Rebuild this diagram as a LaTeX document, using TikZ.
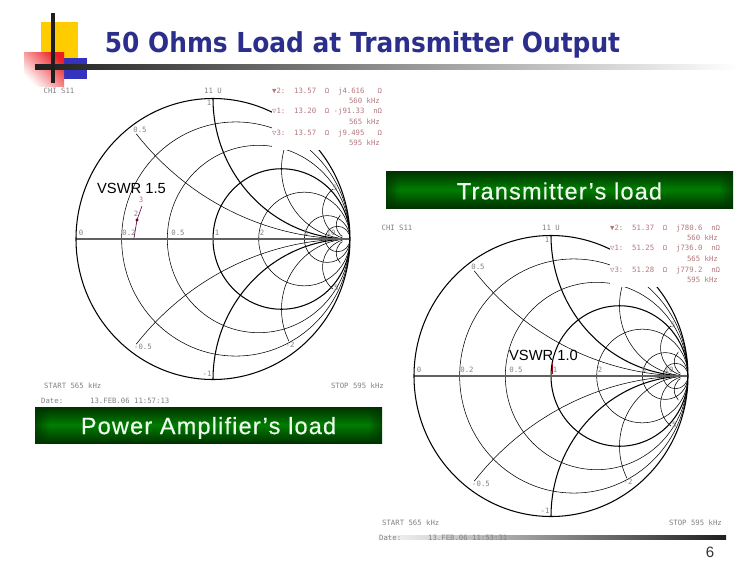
\documentclass[tikz,border=0pt]{standalone}
\usepackage{fontspec}
\usetikzlibrary{fadings}
\setmainfont{Liberation Sans}
\newfontfamily\titlefont{DejaVu Sans}
\newfontfamily\chartmono{DejaVu Sans Mono}
\newfontfamily\bannerfont[LetterSpace=5,FakeBold=0.4]{Liberation Sans}
\definecolor{titleblue}{RGB}{44,46,140}
\definecolor{rosy}{RGB}{178,120,125}
\definecolor{labelgray}{RGB}{130,130,130}
\definecolor{bandgreen}{RGB}{0,125,0}
\definecolor{banddark}{RGB}{0,50,0}
\definecolor{bandtext}{RGB}{238,250,238}
\definecolor{decoyellow}{RGB}{255,204,0}
\definecolor{decoblue}{RGB}{51,51,190}
\definecolor{decored}{RGB}{235,30,35}
\tikzfading[name=bandleft,left color=transparent!30,right color=transparent!100]
\tikzfading[name=bandright,left color=transparent!100,right color=transparent!30]
\tikzset{
  thin line/.style={line width=0.55pt,black},
  thick line/.style={line width=1.05pt,black},
  smalltext/.style={font=\chartmono\fontsize{7.3}{8}\selectfont,text=labelgray,inner sep=0pt},
  readout/.style={font=\chartmono\fontsize{7.3}{8}\selectfont,text=rosy,inner sep=0pt},
  banner/.style={top color=banddark,bottom color=banddark,middle color=bandgreen},
  bannertext/.style={font=\bannerfont\fontsize{23.5}{26}\selectfont,text=bandtext,inner sep=0pt},
  vswr/.style={font=\fontsize{14.7}{16}\selectfont,text=black,inner sep=0pt},
}
% #1 name prefix, #2 dx, #3 dy, #4-6 readout lines, #7 date stamp
\newcommand{\smithgrid}[7]{%
\begin{scope}[shift={(#2,#3)}]
  \begin{scope}[shift={(213,239)},x=137pt,y=140.5pt]
    \begin{scope}
      \clip (0,0) circle [radius=1];
      \foreach \r in {0.2,0.5,2,5,10}
        \draw[thin line] ({\r/(\r+1)},0) circle [radius={1/(\r+1)}];
      \draw[thick line] (0.5,0) circle [radius=0.5];
      \draw[thick line] (1,1) circle [radius=1];
      \draw[thick line] (1,-1) circle [radius=1];
    \end{scope}
    \begin{scope}
      \clip (0,0) circle [radius=0.935];
      \draw[thin line] (1,2) circle [radius=2];
      \draw[thin line] (1,-2) circle [radius=2];
    \end{scope}
    \begin{scope}
      \clip (0,0) circle [radius=0.915];
      \draw[thin line] (1,0.5) circle [radius=0.5];
      \draw[thin line] (1,-0.5) circle [radius=0.5];
    \end{scope}
    \begin{scope}
      \clip (0,0) circle [radius=0.945];
      \foreach \s in {5,10} {
        \draw[thin line] (1,{1/\s}) circle [radius={1/\s}];
        \draw[thin line] (1,{-1/\s}) circle [radius={1/\s}];
      }
    \end{scope}
    \draw[line width=1.1pt,black!62] (-1,0) -- (1,0);
    \draw[thick line] (0,0) circle [radius=1];
  \end{scope}
  \fill[white] (272,84) rectangle (386,150);
  \node[smalltext] (#1chi) at (59,91) {CHI S11};
  \node[smalltext] (#1top) at (213,91) {11 U};
  \node[smalltext] (#1one) at (209,103) {1};
  \node[smalltext] (#1up) at (140,130) {0.5};
  \node[smalltext] (#1five) at (335,188) {5};
  \node[smalltext] (#1a) at (81,233) {0};
  \node[smalltext] (#1b) at (129,233) {0.2};
  \node[smalltext] (#1c) at (178,233) {0.5};
  \node[smalltext] (#1d) at (217,233) {1};
  \node[smalltext] (#1e) at (262,233) {2};
  \node[smalltext] (#1f) at (306,233) {5};
  \node[smalltext] (#1g) at (331,233) {10};
  \node[smalltext] (#1h) at (334,288) {-5};
  \node[smalltext] (#1i) at (290,345) {-2};
  \node[smalltext] (#1j) at (143,347) {-0.5};
  \node[smalltext] (#1k) at (207,374) {-1};
  \node[readout,anchor=west] (#1m) at (272,91) {#4};
  \node[readout,anchor=east] (#1n) at (380,101) {560 kHz};
  \node[readout,anchor=west] (#1o) at (272,111) {#5};
  \node[readout,anchor=east] (#1p) at (380,122) {565 kHz};
  \node[readout,anchor=west] (#1q) at (272,133) {#6};
  \node[readout,anchor=east] (#1r) at (380,143) {595 kHz};
  \node[smalltext,anchor=west] (#1s) at (44,386) {START 565 kHz};
  \node[smalltext,anchor=east] (#1t) at (384,386) {STOP 595 kHz};
  \node[smalltext,anchor=west] (#1u) at (41,400.5) {Date:};
  \node[smalltext,anchor=west] (#1v) at (90,400.5) {#7};
\end{scope}}
\begin{document}
\begin{tikzpicture}[x=1pt,y=-1pt]
\useasboundingbox (0,0) rectangle (756,576);
\fill[white] (0,0) rectangle (756,576);
% template decoration
\fill[decoyellow] (41,22) rectangle (78,70);
\fill[decoblue] (64,58) rectangle (87,79);
\shade[top color=decored,bottom color=white,shading angle=-45] (24,52) rectangle (64,86);
\shade[left color=black!88,right color=white] (35,64) rectangle (738,69);
\fill[black!88] (51,13) rectangle (55,83);
% footer rule
\shade[left color=white,right color=black!88] (372,535) rectangle (726,539);
% title
\node[font=\titlefont\bfseries\fontsize{27.5}{30}\selectfont,text=titleblue,inner sep=0pt] (title) at (362.5,45) {\scalebox{0.905}[1]{50 Ohms Load at Transmitter Output}};
% charts
\smithgrid{L}{0}{0}{▼2:~~13.57~~Ω~~j4.616~~~Ω}{▽1:~~13.20~~Ω~-j91.33~~nΩ}{▽3:~~13.57~~Ω~~j9.495~~~Ω}{13.FEB.06 11:57:13}
\smithgrid{R}{338}{137}{▼2:~~51.37~~Ω~~j780.6~~nΩ}{▽1:~~51.25~~Ω~~j736.0~~nΩ}{▽3:~~51.28~~Ω~~j779.2~~nΩ}{13.FEB.06 11:53:31}
% traces
\coordinate (tA) at (134,238);
\coordinate (tB) at (137,220);
\coordinate (tC) at (142,206);
\draw[line width=0.6pt,violet!70!black] (tA) -- (tB) -- (tC);
\fill[red!45!black] (tB) circle (1.6);
\node[readout] (tthree) at (141,200) {3};
\node[readout] (ttwo) at (136,214) {2};
\draw[line width=1.6pt,red!65!black] (552.5,364) -- (552.5,374);
% banners
\shade[banner] (386,171) rectangle (733,208);
\fill[banddark,path fading=bandleft] (386,171) rectangle (400,208);
\fill[banddark,path fading=bandright] (719,171) rectangle (733,208);
\node[bannertext] (tx) at (559.5,191) {Transmitter’s load};
\shade[banner] (35,407) rectangle (382,443);
\fill[banddark,path fading=bandleft] (35,407) rectangle (49,443);
\fill[banddark,path fading=bandright] (368,407) rectangle (382,443);
\node[bannertext] (pa) at (208.5,428) {Power Amplifier’s load};
% annotations
\node[vswr] (v15) at (131.5,188) {VSWR 1.5};
\node[vswr] (v10) at (543.5,355) {VSWR 1.0};
\node[font=\fontsize{15}{17}\selectfont,text=black!80,inner sep=0pt] (page) at (710,552) {6};
\end{tikzpicture}
\end{document}
